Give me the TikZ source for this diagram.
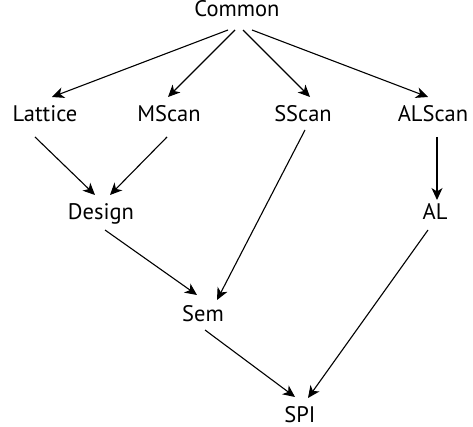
\documentclass[tikz,border=0pt]{standalone}
\usepackage{fontspec}
\setmainfont{PT Sans}
\usetikzlibrary{arrows.meta}
\begin{document}
\begin{tikzpicture}[x=1pt,y=-1pt,
  mod/.style={anchor=base,inner sep=0pt,font=\fontsize{22.5}{24}\selectfont},
  dep/.style={-{Stealth[length=12pt,width=11pt,inset=3.5pt]},line width=1.1pt}]
  \useasboundingbox (0,0) rectangle (473,427);
  % modules, placed by their baselines
  \node[mod] (common) at (237,17)  {Common};
  \node[mod] (lattice) at (45,122) {Lattice};
  \node[mod] (mscan) at (169,122)  {MScan};
  \node[mod] (sscan) at (303,122)  {SScan};
  \node[mod] (alscan) at (433,122) {ALScan};
  \node[mod] (design) at (101,220) {Design};
  \node[mod] (al) at (435,220)     {AL};
  \node[mod] (sem) at (203,321)    {Sem};
  \node[mod] (spi) at (300,422)    {SPI};
  % dependencies
  \draw[dep] ([xshift=-9pt,yshift=-13pt]common.base) -- ([xshift=7pt,yshift=25pt]lattice.base);
  \draw[dep] ([xshift=-2pt,yshift=-13pt]common.base) -- ([xshift=-1pt,yshift=25pt]mscan.base);
  \draw[dep] ([xshift=6pt,yshift=-13pt]common.base) -- ([xshift=7pt,yshift=25pt]sscan.base);
  \draw[dep] ([xshift=15pt,yshift=-13pt]common.base) -- ([xshift=-5pt,yshift=25pt]alscan.base);
  \draw[dep] ([xshift=-10pt,yshift=-15pt]lattice.base) -- ([xshift=-6pt,yshift=25pt]design.base);
  \draw[dep] ([xshift=-2pt,yshift=-15pt]mscan.base) -- ([xshift=9pt,yshift=25pt]design.base);
  \draw[dep] ([xshift=4pt,yshift=-15pt]alscan.base) -- ([xshift=2pt,yshift=20pt]al.base);
  \draw[dep] ([xshift=4pt,yshift=-10pt]design.base) -- ([xshift=-6pt,yshift=26pt]sem.base);
  \draw[dep] ([xshift=2pt,yshift=-8pt]sscan.base) -- ([xshift=14pt,yshift=21pt]sem.base);
  \draw[dep] ([xshift=2pt,yshift=-9pt]sem.base) -- ([xshift=-5pt,yshift=25pt]spi.base);
  \draw[dep] ([xshift=-7pt,yshift=-10pt]al.base) -- ([xshift=8pt,yshift=24pt]spi.base);
\end{tikzpicture}
\end{document}
